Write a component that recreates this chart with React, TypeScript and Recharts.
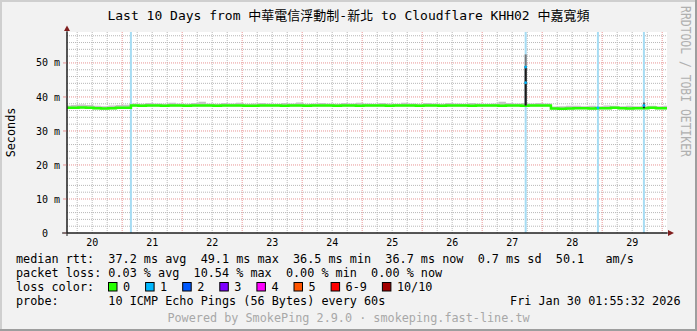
import React from "react";
import { ComposedChart, Line, Area, XAxis, YAxis, CartesianGrid, ReferenceLine } from "recharts";

// Time axis: hours since 2026-01-20 00:00
const viewStart = 1.93;
const viewEnd = 241.93;
const sampleStart = 0.5;
const sampleStep = 3;

const dayLabels = ["20", "21", "22", "23", "24", "25", "26", "27", "28", "29"];
const dayLabelHours = [12, 36, 60, 84, 108, 132, 156, 180, 204, 228];
const midnightHours = [24, 48, 72, 96, 120, 144, 168, 192, 216, 240];
const sixHourHours = [
  6, 12, 18, 30, 36, 42, 54, 60, 66, 78, 84, 90, 102, 108, 114, 126, 132, 138,
  150, 156, 162, 174, 180, 186, 198, 204, 210, 222, 228, 234,
];
const yTicks = [0, 10, 20, 30, 40, 50];
const yMajorValues = [10, 20, 30, 40, 50];
const yMinorValues = [
  2, 4, 6, 8, 12, 14, 16, 18, 22, 24, 26, 28, 32, 34, 36, 38, 42, 44, 46, 48, 52, 54, 56, 58,
];

// median RTT (ms), one value per 3 h sample
const medianRtt = [
  36.8, 36.8, 36.9, 36.8, 36.7, 36.6, 36.7, 36.8, 36.8,
  37.5, 37.4, 37.5, 37.5, 37.4, 37.5, 37.5, 37.4, 37.5, 37.5,
  37.5, 37.4, 37.5, 37.5, 37.5, 37.4, 37.4, 37.5, 37.5, 37.5,
  37.4, 37.5, 37.5, 37.4, 37.5, 37.5, 37.5, 37.4, 37.5, 37.5,
  37.4, 37.5, 37.5, 37.5, 37.4, 37.5, 37.5, 37.5, 37.4, 37.5,
  37.5, 37.4, 37.5, 37.5, 37.5, 37.4, 37.5, 37.5, 37.5, 37.4,
  37.5, 37.5, 37.4, 37.5, 37.5, 37.5,
  36.6, 36.5, 36.6, 36.7, 36.7, 36.6, 36.7, 36.7, 36.8, 36.7, 36.6, 36.7, 36.7, 36.8, 36.7, 36.7, 36.7,
];
const smokeLow = [
  36.5, 36.5, 36.6, 36.5, 36.4, 36.3, 36.4, 36.5, 36.5,
  37.2, 37.1, 37.2, 37.2, 37.1, 37.2, 37.2, 37.1, 37.2, 37.2,
  37.2, 37.1, 37.2, 37.2, 37.2, 37.1, 37.1, 37.2, 37.2, 37.2,
  37.1, 37.2, 37.2, 37.1, 37.2, 37.2, 37.2, 37.1, 37.2, 37.2,
  37.1, 37.2, 37.2, 37.2, 37.1, 37.2, 37.2, 37.2, 37.1, 37.2,
  37.2, 37.1, 37.2, 37.2, 37.2, 37.1, 37.2, 37.2, 37.2, 37.1,
  37.2, 37.2, 37.1, 37.2, 37.2, 37.2,
  36.3, 36.2, 36.3, 36.4, 36.4, 36.3, 36.4, 36.4, 36.5, 36.4, 36.3, 36.4, 36.4, 36.5, 36.4, 36.4, 36.4,
];
const smokeHigh = [
  37.5, 37.6, 37.8, 37.6, 37.4, 37.3, 37.5, 37.6, 37.7,
  38.1, 38.0, 38.2, 38.1, 38.0, 38.3, 38.1, 38.0, 38.2, 38.6,
  38.1, 38.0, 38.2, 38.1, 38.3, 38.0, 38.1, 38.2, 38.1, 38.0,
  38.2, 38.1, 38.4, 38.0, 38.1, 38.2, 38.1, 38.0, 38.2, 38.1,
  38.3, 38.1, 38.0, 38.2, 38.1, 38.0, 38.3, 38.1, 38.0, 38.2,
  38.1, 38.0, 38.2, 38.1, 38.0, 38.2, 38.1, 38.0, 38.1, 38.6,
  38.2, 38.1, 38.2, 38.1, 38.2, 38.1,
  37.2, 37.3, 37.4, 37.4, 37.3, 37.4, 37.3, 37.5, 37.4, 37.3, 37.4, 37.3, 37.4, 37.4, 37.3, 37.4, 37.3,
];

// loss events (hours) and spikes
const lossEventHours = [27.5, 185.4, 214.3, 232.7];
const spikeHours = [185.4, 232.7];
const spikeBase = [37.5, 36.7];
const spikeMedianTop = [49.1, 38.0];
const spikeSmokeTop = [52.5, 38.4];
const lossDotHours = [185.4, 185.4, 214.3, 232.7];
const lossDotValues = [48.8, 44.2, 36.8, 37.5];

// text
const titleText = "Last 10 Days from 中華電信浮動制-新北 to Cloudflare KHH02 中嘉寬頻";
const legendMedian = "median rtt:  37.2 ms avg  49.1 ms max  36.5 ms min  36.7 ms now  0.7 ms sd  50.1   am/s";
const legendLoss = "packet loss: 0.03 % avg  10.54 % max  0.00 % min  0.00 % now";
const lossColorTitle = "loss color:";
const lossLabels = ["0", "1", "2", "3", "4", "5", "6-9", "10/10"];
const lossColors = ["#26ff00", "#00b8ff", "#0059ff", "#7e00ff", "#ff00ff", "#ff5500", "#ff0000", "#a10000"];
const probeLine = "probe:       10 ICMP Echo Pings (56 Bytes) every 60s";
const dateStamp = "Fri Jan 30 01:55:32 2026";
const poweredBy = "Powered by SmokePing 2.9.0 · smokeping.fast-line.tw";
const watermark = "RRDTOOL / TOBI OETIKER";
const yAxisTitle = "Seconds";

const W = 697;
const H = 331;
const MONO = "'DejaVu Sans Mono', 'Noto Sans CJK TC', monospace";
const LEG_FS = 11.8;
const CHAR_W = 7.1;

export default function App() {
  const rows = medianRtt.map((m, i) => ({
    t: sampleStart + i * sampleStep,
    median: m,
    smoke: [smokeLow[i], smokeHigh[i]],
  }));

  const squares: { x: number; label: string; color: string }[] = [];
  let sx = 108;
  lossLabels.forEach((lab, i) => {
    squares.push({ x: sx, label: lab, color: lossColors[i] });
    sx = sx + 15 + lab.length * CHAR_W + 15;
  });

  return (
    <div
      style={{
        position: "absolute",
        left: 0,
        top: 0,
        width: W,
        height: H,
        background: "#f2f2f2",
        overflow: "hidden",
      }}
    >
      <ComposedChart width={W} height={H} data={rows} margin={{ top: 32, right: 30, bottom: 68, left: 17 }}>
        <CartesianGrid
          fill="#ffffff"
          stroke="#b8b8b8"
          strokeDasharray="1 1"
          horizontalValues={yMinorValues}
          verticalValues={sixHourHours}
        />
        <CartesianGrid
          stroke="#e89494"
          strokeDasharray="1 1"
          horizontalValues={yMajorValues}
          verticalValues={midnightHours}
        />
        <XAxis
          dataKey="t"
          type="number"
          domain={[viewStart, viewEnd]}
          allowDataOverflow
          ticks={dayLabelHours}
          interval={0}
          tickFormatter={(v: number) => dayLabels[dayLabelHours.indexOf(v)]}
          height={30}
          tickSize={4}
          tickMargin={2}
          tickLine={false}
          axisLine={{ stroke: "#1f1f1f" }}
          tick={{ fontSize: 10, fill: "#000", fontFamily: MONO }}
        />
        <YAxis
          type="number"
          domain={[0, 59.1]}
          allowDataOverflow
          ticks={yTicks}
          interval={0}
          tickFormatter={(v: number) => (v === 0 ? "0\u00a0\u00a0" : `${v} m`)}
          width={50}
          tickSize={4}
          tickMargin={3}
          tickLine={{ stroke: "#e89494" }}
          axisLine={{ stroke: "#1f1f1f" }}
          tick={{ fontSize: 10, fill: "#000", fontFamily: MONO }}
        />
        {lossEventHours.map((h, k) => (
          <ReferenceLine key={"loss" + k} x={h} stroke="#a6dcf3" strokeWidth={2} />
        ))}
        <Area
          dataKey="smoke"
          type="stepAfter"
          fill="#c4c4c4"
          fillOpacity={1}
          stroke="none"
          isAnimationActive={false}
        />
        <Line
          dataKey="median"
          type="stepAfter"
          stroke="#26ff00"
          strokeWidth={2.5}
          dot={false}
          isAnimationActive={false}
        />
        {spikeHours.map((h, k) => (
          <Line
            key={"ss" + k}
            data={[
              { t: h, v: spikeBase[k] },
              { t: h, v: spikeSmokeTop[k] },
            ]}
            dataKey="v"
            stroke="#777777"
            strokeWidth={2}
            dot={false}
            isAnimationActive={false}
          />
        ))}
        {spikeHours.map((h, k) => (
          <Line
            key={"sm" + k}
            data={[
              { t: h, v: spikeBase[k] },
              { t: h, v: spikeMedianTop[k] },
            ]}
            dataKey="v"
            stroke="#1a1a1a"
            strokeWidth={2}
            dot={false}
            isAnimationActive={false}
          />
        ))}
        <Line
          data={lossDotHours.map((h, k) => ({ t: h, v: lossDotValues[k] }))}
          dataKey="v"
          stroke="none"
          dot={{ r: 1, fill: "#00b8ff", stroke: "#00b8ff" }}
          isAnimationActive={false}
        />
      </ComposedChart>

      <svg
        width={W}
        height={H}
        style={{ position: "absolute", left: 0, top: 0, pointerEvents: "none" }}
      >
        {/* frame shading */}
        <rect x={0} y={0} width={W} height={2} fill="#cfcfcf" />
        <rect x={0} y={0} width={2} height={H} fill="#cfcfcf" />
        <rect x={0} y={H - 2} width={W} height={2} fill="#9e9e9e" />
        <rect x={W - 2} y={0} width={2} height={H} fill="#9e9e9e" />

        {/* axis extensions & arrows */}
        <line x1={62} y1={233} x2={669} y2={233} stroke="#1f1f1f" strokeWidth={1} />
        <line x1={67} y1={236} x2={67} y2={30} stroke="#1f1f1f" strokeWidth={1} />
        <polygon points="668,230 674,233 668,236" fill="#801f1f" />
        <polygon points="64,31 67,25.5 70,31" fill="#801f1f" />

        <text
          x={348.5}
          y={20}
          textAnchor="middle"
          fontFamily={MONO}
          fontSize={13}
          fill="#000"
          style={{ whiteSpace: "pre" }}
        >
          {titleText}
        </text>

        <text
          transform="translate(11,132.5) rotate(-90)"
          textAnchor="middle"
          dominantBaseline="central"
          fontFamily={MONO}
          fontSize={LEG_FS}
          fill="#000"
        >
          {yAxisTitle}
        </text>

        <text
          transform="translate(686,81.5) rotate(90) scale(1,1.25)"
          textAnchor="middle"
          dominantBaseline="central"
          fontFamily={MONO}
          fontSize={11.4}
          fill="#b0b0b0"
        >
          {watermark}
        </text>

        <text x={16} y={263} fontFamily={MONO} fontSize={LEG_FS} fill="#000" style={{ whiteSpace: "pre" }}>
          {legendMedian}
        </text>
        <text x={16} y={277} fontFamily={MONO} fontSize={LEG_FS} fill="#000" style={{ whiteSpace: "pre" }}>
          {legendLoss}
        </text>
        <text x={16} y={291} fontFamily={MONO} fontSize={LEG_FS} fill="#000" style={{ whiteSpace: "pre" }}>
          {lossColorTitle}
        </text>
        {squares.map((s, i) => (
          <g key={"sq" + i}>
            <rect x={s.x + 0.5} y={282.5} width={8.5} height={8.5} fill={s.color} stroke="#000" strokeWidth={1} />
            <text x={s.x + 15} y={291} fontFamily={MONO} fontSize={LEG_FS} fill="#000">
              {s.label}
            </text>
          </g>
        ))}
        <text x={16} y={305} fontFamily={MONO} fontSize={LEG_FS} fill="#000" style={{ whiteSpace: "pre" }}>
          {probeLine}
        </text>
        <text x={680.5} y={305} textAnchor="end" fontFamily={MONO} fontSize={LEG_FS} fill="#000">
          {dateStamp}
        </text>
        <text x={348.5} y={322} textAnchor="middle" fontFamily={MONO} fontSize={LEG_FS} fill="#a8a8a8">
          {poweredBy}
        </text>
      </svg>
    </div>
  );
}
